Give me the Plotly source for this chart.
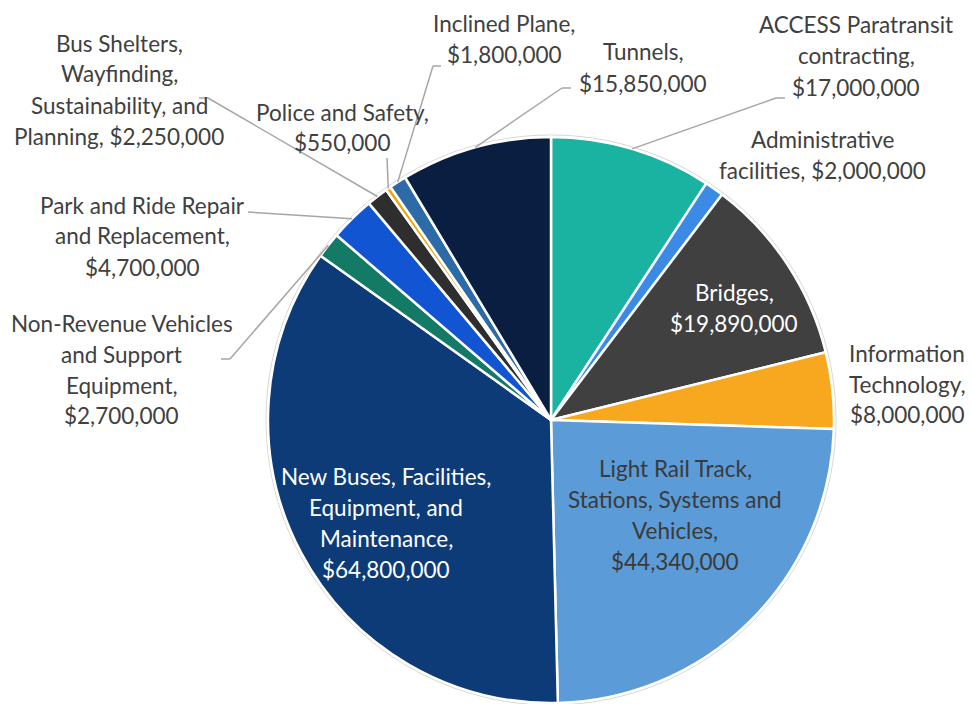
import math
import plotly.graph_objects as go

# Capital program allocation by category (clockwise from 12 o'clock)
categories = [
    "ACCESS Paratransit contracting",
    "Administrative facilities",
    "Bridges",
    "Information Technology",
    "Light Rail Track, Stations, Systems and Vehicles",
    "New Buses, Facilities, Equipment, and Maintenance",
    "Non-Revenue Vehicles and Support Equipment",
    "Park and Ride Repair and Replacement",
    "Bus Shelters, Wayfinding, Sustainability, and Planning",
    "Police and Safety",
    "Inclined Plane",
    "Tunnels",
]
amounts = [17000000, 2000000, 19890000, 8000000, 44340000, 64800000,
           2700000, 4700000, 2250000, 550000, 1800000, 15850000]
slice_colors = ["#1AB2A0", "#3B8BE6", "#404040", "#F8A81E", "#5B9BD8", "#0C3B77",
                "#137A66", "#1155D2", "#2E2E2E", "#F0A30A", "#2D6BA8", "#0A1E42"]

# Label lines for each slice; "{v}" is replaced by the formatted amount
label_lines = [
    ["ACCESS Paratransit", "contracting,", "{v}"],
    ["Administrative", "facilities, {v}"],
    ["Bridges,", "{v}"],
    ["Information", "Technology,", "{v}"],
    ["Light Rail Track,", "Stations, Systems and", "Vehicles,", "{v}"],
    ["New Buses, Facilities,", "Equipment, and", "Maintenance,", "{v}"],
    ["Non-Revenue Vehicles", "and Support", "Equipment,", "{v}"],
    ["Park and Ride Repair", "and Replacement,", "{v}"],
    ["Bus Shelters,", "Wayfinding,", "Sustainability, and", "Planning, {v}"],
    ["Police and Safety,", "{v}"],
    ["Inclined Plane,", "{v}"],
    ["Tunnels,", "{v}"],
]

# ---- layout geometry (pixels) ----
W, H = 971, 720
CX, CY, R = 551, 420, 283
LINE_GAP = 31

# label block: x-centre, y of first line, text colour
label_pos = [
    (856, 25, "#404040"),
    (822, 139, "#404040"),
    (734, 292, "#FFFFFF"),
    (907, 353, "#404040"),
    (675, 468, "#3A3A3A"),
    (386, 476, "#FFFFFF"),
    (122, 323, "#404040"),
    (142, 205, "#404040"),
    (119, 43, "#404040"),
    (342, 112, "#404040"),
    (504, 24, "#404040"),
    (643, 52, "#404040"),
]

# leader-line bend/end points (pixels) per slice index
leaders = {
    0: [(776, 98), (785, 98)],
    11: [(562, 88), (571, 88)],
    10: [(433, 66), (441, 66)],
    9: [(387, 158)],
    8: [(208, 98), (199, 98)],
    7: [(248, 212)],
    6: [(230, 359), (221, 359)],
}


def px(x, y):
    return x / W, 1 - y / H


fig = go.Figure()
fig.add_trace(go.Pie(
    labels=categories,
    values=amounts,
    sort=False,
    direction="clockwise",
    rotation=0,
    marker=dict(colors=slice_colors, line=dict(color="#FFFFFF", width=2.5)),
    textinfo="none",
    hoverinfo="label+value",
    showlegend=False,
    domain=dict(x=[(CX - R) / W, (CX + R) / W],
                y=[1 - (CY + R) / H, 1 - (CY - R) / H]),
))

shapes = []
# faint outline around the pie
x0, y0 = px(CX - R - 2, CY + R + 2)
x1, y1 = px(CX + R + 2, CY - R - 2)
shapes.append(dict(type="circle", xref="paper", yref="paper", x0=x0, y0=y0, x1=x1, y1=y1,
                   line=dict(color="#D6D6D6", width=1), layer="below"))

total = sum(amounts)
cum = 0.0
mid_angles = []
for v in amounts:
    mid_angles.append(2 * math.pi * (cum + v / 2) / total)
    cum += v

for i, pts in leaders.items():
    a = mid_angles[i]
    path_pts = [(CX + R * math.sin(a), CY - R * math.cos(a))] + pts
    for (ax, ay), (bx, by) in zip(path_pts[:-1], path_pts[1:]):
        ax_, ay_ = px(ax, ay)
        bx_, by_ = px(bx, by)
        shapes.append(dict(type="line", xref="paper", yref="paper",
                           x0=ax_, y0=ay_, x1=bx_, y1=by_,
                           line=dict(color="#A6A6A6", width=1.5)))

annotations = []
for i, lines in enumerate(label_lines):
    lx, ly, col = label_pos[i]
    amount_txt = "${:,.0f}".format(amounts[i])
    for k, line in enumerate(lines):
        ax_, ay_ = px(lx, ly + k * LINE_GAP)
        annotations.append(dict(
            text=line.replace("{v}", amount_txt),
            x=ax_, y=ay_, xref="paper", yref="paper",
            xanchor="center", yanchor="middle", showarrow=False,
            font=dict(family="Lato", size=22.5, color=col),
        ))

fig.update_layout(
    width=W, height=H,
    margin=dict(l=0, r=0, t=0, b=0),
    paper_bgcolor="#FFFFFF",
    plot_bgcolor="#FFFFFF",
    shapes=shapes,
    annotations=annotations,
)

fig.write_html(
    "out.html",
    config={"displayModeBar": False},
    post_script="document.documentElement.style.overflow='hidden';document.body.style.overflow='hidden';document.body.style.margin='0';",
)
